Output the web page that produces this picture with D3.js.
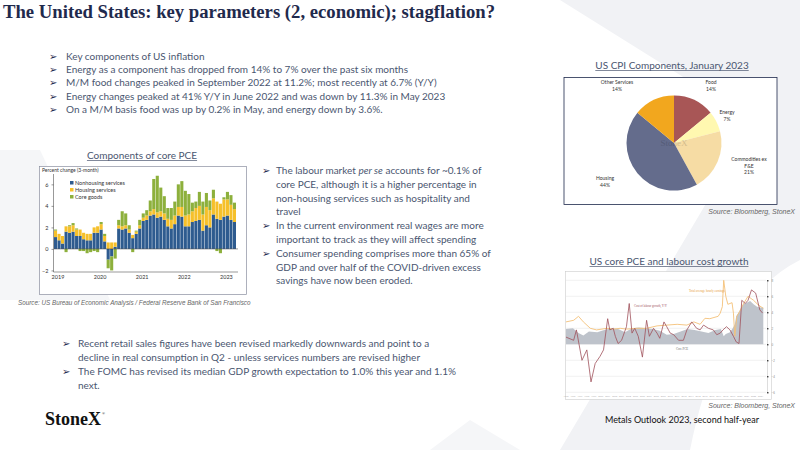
<!DOCTYPE html>
<html><head><meta charset="utf-8">
<script src="https://cdn.jsdelivr.net/npm/d3@7"></script>
<style>body{margin:0;background:#fff}svg{display:block}</style>
</head><body><svg id="s" width="800" height="450"></svg>
<script>
// ---- data: Components of core PCE (Jan 2019 - Apr 2023)
const pceYears = ["2019","2020","2021","2022","2023"];
const nonhousing = [1.1,0.8,0.5,1.6,1.5,1.6,1.2,1.2,0.9,0.8,0.8,1.5, 1.5,1.8,0.7,-1.0,-0.7,0.2,1.9,1.8,1.9,1.5,1.0,1.4, 1.9,2.6,2.7,3.1,3.2,2.9,3.0,2.7,2.1,1.9,2.3,3.1, 3.0,2.1,2.1,2.5,2.6,2.7,1.7,2.2,2.0,3.2,2.8,2.7, 3.0,3.1,2.7,2.5];
const housing =    [0.6,0.6,0.7,0.5,0.6,0.6,0.6,0.6,0.6,0.6,0.6,0.5, 0.6,0.5,0.5,0.6,0.6,0.4,0.3,0.3,0.3,0.3,0.3,0.2, 0.3,0.3,0.4,0.4,0.5,0.5,0.5,0.6,0.7,0.8,0.8,0.8, 0.9,1.0,1.1,1.0,1.2,1.3,1.5,1.7,1.6,1.5,1.6,1.5, 1.6,1.5,1.4,1.2];
const goods =      [0.1,0.0,0.0,-0.3,0.1,0.2,0.1,-0.2,-0.2,-0.4,-0.3,-0.2, -0.3,0.2,0.2,-0.8,-1.3,-0.9,0.5,1.4,1.1,0.4,-0.3,0.1, 0.5,0.4,0.5,1.0,2.8,3.4,2.2,1.6,1.0,1.1,1.3,2.1, 2.4,2.3,1.9,0.8,0.6,1.3,1.2,1.3,0.9,0.8,-0.2,-0.4, 0.2,0.7,0.9,0.6];
const pceSeries = ["Nonhousing services","Housing services","Core goods"];
const pceTicks = [-2,0,2,4,6];
// ---- data: US CPI components, January 2023
const cpiLabels = ["Food","Energy","Commodities ex F&E","Housing","Other Services"];
const cpiShares = [14,7,21,44,14];
// ---- data: US core PCE and labour cost growth
const labourYears = [1995.0,1996.1,1996.5,1997.3,1998.0,1998.6,1999.2,1999.9,2000.4,2001.0,2001.3,2001.8,2002.1,2002.5,2003.0,2003.7,2004.1,2004.5,2004.9,2005.4,2006.0,2006.6,2007.0,2007.6,2008.1,2008.5,2009.1,2009.5,2010.0,2010.5,2011.2,2011.9,2012.4,2013.1,2013.8,2014.3,2014.8,2015.5,2016.2,2016.7,2017.2,2017.6,2018.1,2018.6,2019.1,2019.5,2019.9,2020.3,2020.8,2021.2,2021.7,2022.3,2022.9,2023.3];
const labourCost = [0.9,0.5,1.8,-2.0,-0.7,-4.7,-2.4,-1.5,-0.7,3.2,1.8,2.0,1.0,0.1,0.5,2.2,5.1,1.4,2.0,1.0,-1.6,3.0,1.0,2.0,1.4,0.75,2.8,2.2,1.4,1.2,0.5,0.5,1.8,2.8,2.0,1.8,2.4,2.0,1.8,1.2,1.4,1.8,2.2,1.8,1.0,0.3,0.1,5.5,5.1,5.5,6.8,6.4,4.3,3.9];
const earnYears = [1995.0,1996.1,1996.8,1997.5,1998.5,1999.4,2000.9,2001.8,2002.8,2003.7,2005.2,2006.6,2008.1,2009.5,2011.0,2012.4,2013.4,2014.3,2015.0,2015.7,2016.9,2017.2,2017.5,2017.7,2018.0,2018.3,2018.9,2019.1,2019.3,2019.6,2020.0,2020.5,2021.2,2022.0,2022.7,2023.4];
const hourlyEarnings = [2.8,3.0,3.5,2.8,2.0,1.8,2.0,1.9,2.0,1.9,2.0,2.0,2.3,2.4,2.5,2.4,2.8,2.5,3.25,3.2,3.5,3.9,4.7,8.0,6.0,5.0,5.2,3.9,1.0,3.5,4.1,5.0,6.0,5.5,4.9,4.5];
const coreYears = [1995.0,1996.0,1996.8,1997.5,1998.3,1999.5,2000.5,2001.5,2002.5,2003.5,2004.5,2005.5,2006.5,2007.5,2008.5,2009.5,2010.5,2011.5,2012.5,2013.5,2014.5,2015.5,2016.5,2017.3,2017.7,2018.0,2018.6,2019.0,2019.3,2019.5,2020.0,2020.5,2021.0,2021.5,2022.0,2022.5,2023.0,2023.4];
const corePCE = [1.9,2.0,1.4,1.1,1.6,1.5,1.8,2.0,1.9,1.5,2.0,2.1,2.0,1.9,1.7,1.2,1.3,1.6,1.9,1.8,1.6,1.4,1.8,1.9,1.0,1.3,1.5,2.0,2.5,3.5,4.2,5.0,5.2,5.4,5.0,4.7,4.6,4.6];
const labourTicks = [-6,-4,-2,0,2,4,6,8];

const svg = d3.select("#s");
const navy = "#1F2A4D", txt = "#4A5670";
const sans = "Lato, 'Open Sans', sans-serif";

// watermark shapes
const wm = svg.append("g").attr("fill","#F1F2F5");
wm.append("path").attr("d","M560,0 L800,0 L800,150 Z");
wm.append("path").attr("d","M0,150 L40,150 L110,300 L0,300 Z").attr("fill","#F5F6F8");
wm.append("path").attr("d","M560,450 L720,180 Q760,120 800,130 L800,260 Q720,300 690,450 Z");
wm.append("path").attr("d","M430,450 L470,420 L520,450 Z").attr("fill","#F5F6F8");

// title
svg.append("text").attr("x",3).attr("y",18).attr("font-family","'Liberation Serif','DejaVu Serif',serif")
  .attr("font-weight","bold").attr("font-size",18.7).attr("fill",navy)
  .text("The United States: key parameters (2, economic); stagflation?");

function bullets(lines, ax, tx, y0, dy, size){
  lines.forEach((l,i)=>{
    const y = y0 + i*dy;
    if(l.b) svg.append("text").attr("x",ax).attr("y",y).attr("font-size",size).attr("font-family","DejaVu Sans").attr("fill",navy).text("➢");
    const t = svg.append("text").attr("x",tx).attr("y",y).attr("font-family",sans).attr("font-size",size).attr("fill",txt);
    l.parts.forEach(p=>t.append("tspan").attr("font-style",p[1]?"italic":null).text(p[0]));
  });
}
const B=(s,b=true)=>({b,parts:[[s]]});
bullets([B("Key components of US inflation"),B("Energy as a component has dropped from 14% to 7% over the past six months"),
  B("M/M food changes peaked in September 2022 at 11.2%; most recently at 6.7% (Y/Y)"),
  B("Energy changes peaked at 41% Y/Y in June 2022 and was down by 11.3% in May 2023"),
  B("On a M/M basis food was up by 0.2% in May, and energy down by 3.6%.")],49,66,60,13.2,10);
bullets([{b:true,parts:[["The labour market "],["per se",1],[" accounts for ~0.1% of"]]},B("core PCE, although it is a higher percentage in",false),
  B("non-housing services such as hospitality and",false),B("travel",false),
  B("In the current environment real wages are more"),B("important to track as they will affect spending",false),
  B("Consumer spending comprises more than 65% of"),B("GDP and over half of the COVID-driven excess",false),B("savings have now been eroded.",false)],262,276,174,13.8,10);
bullets([B("Recent retail sales figures have been revised markedly downwards and point to a"),
  B("decline in real consumption in Q2 - unless services numbers are revised higher",false),
  B("The FOMC has revised its median GDP growth expectation to 1.0% this year and 1.1%"),B("next.",false)],62,78,347,14,10);

svg.append("text").attr("x",45).attr("y",425).attr("font-family","'Liberation Serif',serif").attr("font-weight","bold").attr("font-size",18).attr("fill","#111").text("StoneX");
svg.append("text").attr("x",102).attr("y",415).attr("font-size",4).attr("fill","#111").text("®");
svg.append("text").attr("x",682).attr("y",423).attr("text-anchor","middle").attr("font-family",sans).attr("font-size",9).attr("fill","#111").text("Metals Outlook 2023, second half-year");

function title(x,y,s){
  const t=svg.append("text").attr("x",x).attr("y",y).attr("text-anchor","middle").attr("font-family",sans).attr("font-size",10).attr("fill",txt).text(s);
  const w=t.node().getComputedTextLength();
  svg.append("line").attr("x1",x-w/2).attr("x2",x+w/2).attr("y1",y+1.5).attr("y2",y+1.5).attr("stroke",txt).attr("stroke-width",0.7);
}
function source(x,y,s,anchor){
  svg.append("text").attr("x",x).attr("y",y).attr("text-anchor",anchor).attr("font-family","'Liberation Sans',Arial").attr("font-style","italic").attr("font-size",anchor==="end"?7:6.3).attr("fill","#666").text(s);
}

// ---- PCE chart
title(142,159,"Components of core PCE");
svg.append("rect").attr("x",39.5).attr("y",166.5).attr("width",207).attr("height",128).attr("fill","#fff").attr("stroke","#8a8fa0").attr("stroke-width",0.7);
source(18,305,"Source:  US Bureau  of Economic Analysis / Federal  Reserve  Bank of San Francisco","start");
const n = nonhousing.length;
const px = d3.scaleBand().domain(d3.range(n)).range([54,236]).paddingInner(0.12);
const py = d3.scaleLinear().domain([-2.1,7]).range([271.5,173.6]);
const pg = svg.append("g");
const pcol = ["#2E5B8F","#F6C02A","#8DB03C"];
for(let i=0;i<n;i++){
  let pos=0,neg=0;
  [nonhousing[i],housing[i],goods[i]].forEach((v,k)=>{
    let a,b;
    if(v>=0){a=pos;b=pos+v;pos=b;}else{a=neg;b=neg+v;neg=b;}
    pg.append("rect").attr("x",px(i)).attr("width",px.bandwidth()).attr("y",py(Math.max(a,b))).attr("height",Math.abs(py(a)-py(b))).attr("fill",pcol[k]);
  });
}
pg.append("line").attr("x1",54).attr("x2",238).attr("y1",py(0)).attr("y2",py(0)).attr("stroke","#333").attr("stroke-width",0.5);
pg.append("line").attr("x1",53.5).attr("x2",53.5).attr("y1",174).attr("y2",272).attr("stroke","#333").attr("stroke-width",0.5);
pg.append("line").attr("x1",53.5).attr("x2",238).attr("y1",272).attr("y2",272).attr("stroke","#333").attr("stroke-width",0.5);
const yax = pg.append("g").attr("transform","translate(53.5,0)").call(d3.axisLeft(py).tickValues(pceTicks).tickSize(2).tickFormat(d3.format("d")));
yax.select(".domain").remove();
yax.selectAll("text").attr("font-size",5.5).attr("fill","#333").attr("font-family",sans);
yax.selectAll("line").attr("stroke","#333").attr("stroke-width",0.5);
pceYears.forEach((y,i)=>pg.append("text").attr("x",px(i*12)+4).attr("y",279).attr("text-anchor","middle").attr("font-size",5.5).attr("font-family",sans).attr("fill","#333").text(y));
pg.append("text").attr("x",42).attr("y",172).attr("font-size",5).attr("font-family",sans).attr("fill","#333").text("Percent change (3-month)");
pceSeries.forEach((s,k)=>{
  pg.append("rect").attr("x",70).attr("y",181+k*7).attr("width",3.5).attr("height",3.5).attr("fill",pcol[k]);
  pg.append("text").attr("x",75).attr("y",184.5+k*7).attr("font-size",5.5).attr("font-family",sans).attr("fill","#333").text(s);
});

// ---- CPI pie
title(672,69,"US CPI Components, January 2023");
svg.append("rect").attr("x",564).attr("y",77.5).attr("width",213).attr("height",127).attr("fill","#fff").attr("stroke","#1F2A4D").attr("stroke-width",0.8);
source(795,214,"Source:  Bloomberg,  StoneX","end");
const pcols = ["#A85656","#FFF8B0","#F6DCA4","#646C8C","#F2A71E"];
const pie = d3.pie().sort(null)(cpiShares);
const arc = d3.arc().innerRadius(0).outerRadius(47.5);
const pieG = svg.append("g").attr("transform","translate(674,143)");
pieG.selectAll("path").data(pie).join("path").attr("d",arc).attr("fill",(d,i)=>pcols[i]);
pieG.append("text").attr("x",0).attr("y",3).attr("text-anchor","middle").attr("font-family","'Liberation Serif',serif").attr("font-size",9).attr("fill","#000").attr("opacity",0.15).text("StoneX");
const lpos = [[711,84],[727,114],[749,161],[605,180],[617,84]];
cpiLabels.forEach((l,i)=>{
  const lines = i===2?["Commodities ex","F&E"]:[l];
  lines.concat([cpiShares[i]+"%"]).forEach((s,j)=>svg.append("text").attr("x",lpos[i][0]).attr("y",lpos[i][1]+j*6.5).attr("text-anchor","middle").attr("font-size",5).attr("font-family",sans).attr("fill","#333").text(s));
});

// ---- Labour cost chart
title(669,265,"US core PCE and labour cost growth");
svg.append("rect").attr("x",565.5).attr("y",271.5).attr("width",206).attr("height",128).attr("fill","#fff").attr("stroke","#ccc").attr("stroke-width",0.6);
source(795,408,"Source:  Bloomberg,  StoneX","end");
const lx = d3.scaleLinear().domain([1995,2023.5]).range([566,764]);
const ly = d3.scaleLinear().domain([-6,8]).range([392.3,280.3]);
const lg = svg.append("g");
labourTicks.forEach(t=>lg.append("line").attr("x1",566).attr("x2",766).attr("y1",ly(t)).attr("y2",ly(t)).attr("stroke","#e3e3e3").attr("stroke-width",0.5));
const lax = lg.append("g").attr("transform","translate(767,0)").call(d3.axisRight(ly).tickValues(labourTicks).tickSize(1.5));
lax.select(".domain").attr("stroke","#bbb").attr("stroke-width",0.5);
lax.selectAll("text").attr("font-size",3).attr("fill","#888");
lg.append("path").datum(coreYears.map((y,i)=>[y,corePCE[i]]))
  .attr("d",d3.area().x(d=>lx(d[0])).y0(ly(0)).y1(d=>ly(d[1]))).attr("fill","#BEC3CB");
lg.append("path").datum(earnYears.map((y,i)=>[y,hourlyEarnings[i]]))
  .attr("d",d3.line().x(d=>lx(d[0])).y(d=>ly(d[1]))).attr("fill","none").attr("stroke","#F4C178").attr("stroke-width",0.9);
lg.append("path").datum(labourYears.map((y,i)=>[y,labourCost[i]]))
  .attr("d",d3.line().x(d=>lx(d[0])).y(d=>ly(d[1]))).attr("fill","none").attr("stroke","#A0505A").attr("stroke-width",0.8);
lg.append("text").attr("x",634).attr("y",307).attr("font-size",3).attr("fill","#A0505A").text("Cost of labour growth, Y/Y");
lg.append("text").attr("x",689).attr("y",292).attr("font-size",3).attr("fill","#E8A040").text("Total average hourly earnings");
lg.append("text").attr("x",676).attr("y",350).attr("font-size",3).attr("fill","#666").text("Core PCE");
for(let y=1995;y<=2023;y+=1) lg.append("text").attr("x",lx(y)).attr("y",397).attr("text-anchor","middle").attr("font-size",2.5).attr("fill","#999").text(y);
</script></body></html>
